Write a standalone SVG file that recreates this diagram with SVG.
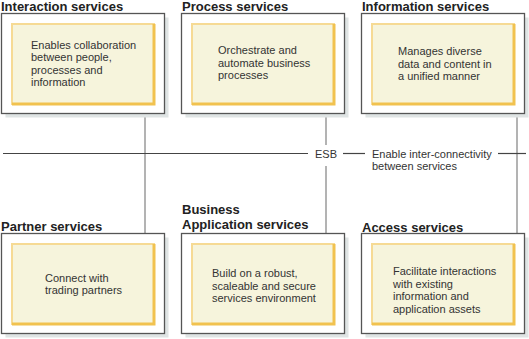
<svg xmlns="http://www.w3.org/2000/svg" width="529" height="339" viewBox="0 0 529 339">
<style>
.shadow{fill:#dfe4e4;}
.outer{fill:#ffffff;stroke:#555555;stroke-width:1.3;}
.inner{fill:#f6f4dc;stroke:#f6da94;stroke-width:2;}
.innersh{fill:none;stroke:#f1c24f;stroke-width:3;}
.title{font-family:"Liberation Sans",Arial,sans-serif;font-size:13px;font-weight:bold;fill:#222222;}
.body{font-family:"Liberation Sans",Arial,sans-serif;font-size:11px;fill:#333333;}
.vline{stroke:#9a9a9a;stroke-width:1.5;fill:none;}
.hline{stroke:#444444;stroke-width:1.2;fill:none;}
</style>
<rect width="529" height="339" fill="#ffffff"/>
<g id="connectors">
<line class="vline" x1="145" y1="114" x2="145" y2="234"/>
<line class="vline" x1="326" y1="114" x2="326" y2="145"/>
<line class="vline" x1="326" y1="166" x2="326" y2="234"/>
<line class="vline" x1="517" y1="114" x2="517" y2="234"/>
<line class="hline" x1="3" y1="153.5" x2="308" y2="153.5"/>
<line class="hline" x1="343" y1="153.5" x2="365" y2="153.5"/>
<line class="hline" x1="498" y1="153.5" x2="526" y2="153.5"/>
</g>
<g id="esb">
<text class="body" x="315" y="157.5">ESB</text>
<text class="body" x="372" y="157.5">Enable inter-connectivity</text>
<text class="body" x="372" y="170">between services</text>
</g>
<g id="interaction">
<text class="title" x="1" y="10.5">Interaction services</text>
<rect class="shadow" x="5.5" y="17.5" width="163" height="100"/>
<rect class="outer" x="1.5" y="13.5" width="163" height="100"/>
<rect class="inner" x="12" y="24" width="142" height="80"/>
<polyline class="innersh" points="154,24 154,104 12,104"/>
<text class="body" x="31" y="48.5">Enables collaboration</text>
<text class="body" x="31" y="61">between people,</text>
<text class="body" x="31" y="73.5">processes and</text>
<text class="body" x="31" y="86">information</text>
</g>
<g id="process">
<text class="title" x="182" y="10.5">Process services</text>
<rect class="shadow" x="185.5" y="17.5" width="163" height="100"/>
<rect class="outer" x="181.5" y="13.5" width="163" height="100"/>
<rect class="inner" x="192" y="24" width="142" height="80"/>
<polyline class="innersh" points="334,24 334,104 192,104"/>
<text class="body" x="218" y="54">Orchestrate and</text>
<text class="body" x="218" y="66.5">automate business</text>
<text class="body" x="218" y="79">processes</text>
</g>
<g id="information">
<text class="title" x="362" y="10.5">Information services</text>
<rect class="shadow" x="365.5" y="17.5" width="163" height="100"/>
<rect class="outer" x="361.5" y="13.5" width="163" height="100"/>
<rect class="inner" x="372" y="24" width="142" height="80"/>
<polyline class="innersh" points="514,24 514,104 372,104"/>
<text class="body" x="398" y="55">Manages diverse</text>
<text class="body" x="398" y="67.5">data and content in</text>
<text class="body" x="398" y="80">a unified manner</text>
</g>
<g id="partner">
<text class="title" x="1" y="231">Partner services</text>
<rect class="shadow" x="5.5" y="237.5" width="163" height="100"/>
<rect class="outer" x="1.5" y="233.5" width="163" height="100"/>
<rect class="inner" x="12" y="244" width="142" height="80"/>
<polyline class="innersh" points="154,244 154,324 12,324"/>
<text class="body" x="45" y="281.5">Connect with</text>
<text class="body" x="45" y="294">trading partners</text>
</g>
<g id="business">
<text class="title" x="182" y="214">Business</text>
<text class="title" x="182" y="228.5">Application services</text>
<rect class="shadow" x="185.5" y="237.5" width="163" height="100"/>
<rect class="outer" x="181.5" y="233.5" width="163" height="100"/>
<rect class="inner" x="192" y="244" width="142" height="80"/>
<polyline class="innersh" points="334,244 334,324 192,324"/>
<text class="body" x="212" y="277">Build on a robust,</text>
<text class="body" x="212" y="289.5">scaleable and secure</text>
<text class="body" x="212" y="302">services environment</text>
</g>
<g id="access">
<text class="title" x="362" y="231.5">Access services</text>
<rect class="shadow" x="365.5" y="237.5" width="163" height="100"/>
<rect class="outer" x="361.5" y="233.5" width="163" height="100"/>
<rect class="inner" x="372" y="244" width="142" height="80"/>
<polyline class="innersh" points="514,244 514,324 372,324"/>
<text class="body" x="393" y="275">Facilitate interactions</text>
<text class="body" x="393" y="287.5">with existing</text>
<text class="body" x="393" y="300">information and</text>
<text class="body" x="393" y="312.5">application assets</text>
</g>
</svg>
